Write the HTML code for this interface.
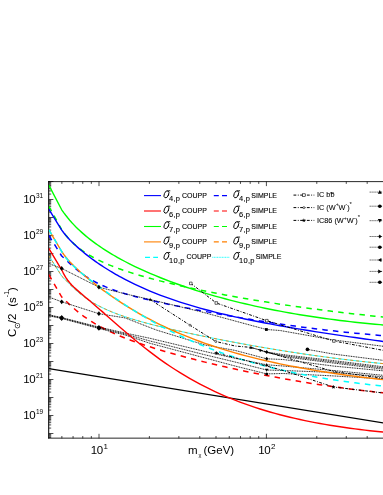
<!DOCTYPE html>
<html><head><meta charset="utf-8"><title>chart</title>
<style>
html,body{margin:0;padding:0;background:#fff}
body{width:383px;height:495px;position:relative;overflow:hidden;font-family:"Liberation Sans",sans-serif;color:#000}
.t{position:absolute;white-space:nowrap;line-height:1}
#tx{position:absolute;left:0;top:0;width:383px;height:495px;opacity:0.999;will-change:transform}
.yl{right:339.8px;font-size:11.5px;letter-spacing:-0.35px}
.xl{top:445.1px;font-size:11.5px;letter-spacing:-0.35px}
.sup{font-size:6.5px;position:relative;top:-5.2px;margin-left:0.6px;letter-spacing:0}
.s2{font-size:5px;position:relative;top:-3.2px;-webkit-text-stroke:0}
</style></head><body>
<svg width="383" height="495" viewBox="0 0 383 495" style="position:absolute;left:0;top:0">
<defs><clipPath id="cp"><rect x="48.8" y="181.5" width="340" height="257"/></clipPath></defs>
<g stroke="#000" fill="none">
<line x1="48.7" y1="181.05" x2="48.7" y2="438.59999999999997" stroke-width="1.05"/>
<line x1="48.2" y1="181.62" x2="384" y2="181.62" stroke-width="0.85"/>
<line x1="48.2" y1="438.15" x2="384" y2="438.15" stroke-width="0.85"/>
<path d="M48.8,433.50h4.6M48.8,428.08h2.4M48.8,424.91h2.4M48.8,422.66h2.4M48.8,420.92h2.4M48.8,419.49h2.4M48.8,418.29h2.4M48.8,417.24h2.4M48.8,416.32h2.4M48.8,415.50h4.6M48.8,410.08h2.4M48.8,406.91h2.4M48.8,404.66h2.4M48.8,402.92h2.4M48.8,401.49h2.4M48.8,400.29h2.4M48.8,399.24h2.4M48.8,398.32h2.4M48.8,397.50h4.6M48.8,392.08h2.4M48.8,388.91h2.4M48.8,386.66h2.4M48.8,384.92h2.4M48.8,383.49h2.4M48.8,382.29h2.4M48.8,381.24h2.4M48.8,380.32h2.4M48.8,379.50h4.6M48.8,374.08h2.4M48.8,370.91h2.4M48.8,368.66h2.4M48.8,366.92h2.4M48.8,365.49h2.4M48.8,364.29h2.4M48.8,363.24h2.4M48.8,362.32h2.4M48.8,361.50h4.6M48.8,356.08h2.4M48.8,352.91h2.4M48.8,350.66h2.4M48.8,348.92h2.4M48.8,347.49h2.4M48.8,346.29h2.4M48.8,345.24h2.4M48.8,344.32h2.4M48.8,343.50h4.6M48.8,338.08h2.4M48.8,334.91h2.4M48.8,332.66h2.4M48.8,330.92h2.4M48.8,329.49h2.4M48.8,328.29h2.4M48.8,327.24h2.4M48.8,326.32h2.4M48.8,325.50h4.6M48.8,320.08h2.4M48.8,316.91h2.4M48.8,314.66h2.4M48.8,312.92h2.4M48.8,311.49h2.4M48.8,310.29h2.4M48.8,309.24h2.4M48.8,308.32h2.4M48.8,307.50h4.6M48.8,302.08h2.4M48.8,298.91h2.4M48.8,296.66h2.4M48.8,294.92h2.4M48.8,293.49h2.4M48.8,292.29h2.4M48.8,291.24h2.4M48.8,290.32h2.4M48.8,289.50h4.6M48.8,284.08h2.4M48.8,280.91h2.4M48.8,278.66h2.4M48.8,276.92h2.4M48.8,275.49h2.4M48.8,274.29h2.4M48.8,273.24h2.4M48.8,272.32h2.4M48.8,271.50h4.6M48.8,266.08h2.4M48.8,262.91h2.4M48.8,260.66h2.4M48.8,258.92h2.4M48.8,257.49h2.4M48.8,256.29h2.4M48.8,255.24h2.4M48.8,254.32h2.4M48.8,253.50h4.6M48.8,248.08h2.4M48.8,244.91h2.4M48.8,242.66h2.4M48.8,240.92h2.4M48.8,239.49h2.4M48.8,238.29h2.4M48.8,237.24h2.4M48.8,236.32h2.4M48.8,235.50h4.6M48.8,230.08h2.4M48.8,226.91h2.4M48.8,224.66h2.4M48.8,222.92h2.4M48.8,221.49h2.4M48.8,220.29h2.4M48.8,219.24h2.4M48.8,218.32h2.4M48.8,217.50h4.6M48.8,212.08h2.4M48.8,208.91h2.4M48.8,206.66h2.4M48.8,204.92h2.4M48.8,203.49h2.4M48.8,202.29h2.4M48.8,201.24h2.4M48.8,200.32h2.4M48.8,199.50h4.6M48.8,194.08h2.4M48.8,190.91h2.4M48.8,188.66h2.4M48.8,186.92h2.4M48.8,185.49h2.4M48.8,184.29h2.4M48.8,183.24h2.4M48.8,182.32h2.4M48.8,181.50h4.6M48.8,437.49h2.4M48.8,436.29h2.4M48.8,435.24h2.4M48.8,434.32h2.4" stroke-width="0.7"/>
<path d="M61.86,438.4v-2.4M61.86,181.5v2.4M73.07,438.4v-2.4M73.07,181.5v2.4M82.78,438.4v-2.4M82.78,181.5v2.4M91.34,438.4v-2.4M91.34,181.5v2.4M149.39,438.4v-2.4M149.39,181.5v2.4M178.87,438.4v-2.4M178.87,181.5v2.4M199.78,438.4v-2.4M199.78,181.5v2.4M216.01,438.4v-2.4M216.01,181.5v2.4M229.26,438.4v-2.4M229.26,181.5v2.4M240.47,438.4v-2.4M240.47,181.5v2.4M250.18,438.4v-2.4M250.18,181.5v2.4M258.74,438.4v-2.4M258.74,181.5v2.4M316.79,438.4v-2.4M316.79,181.5v2.4M346.27,438.4v-2.4M346.27,181.5v2.4M367.18,438.4v-2.4M367.18,181.5v2.4M99.00,438.4v-4.6M99.00,181.5v4.6M266.40,438.4v-4.6M266.40,181.5v4.6" stroke-width="0.7"/>
</g>
<g clip-path="url(#cp)" fill="none" stroke-linejoin="round">
<path d="M48.8,368.6 L385,423.3" stroke="#000" stroke-width="1.2"/>
<path d="M48.8,255.7 L61.7,276.10 L63.7,278.07 L65.7,280.12 L67.7,282.17 L69.7,284.19 L71.7,286.16 L73.7,288.07 L75.7,289.90 L77.7,291.66 L79.7,293.34 L81.7,294.94 L83.7,296.46 L85.7,297.92 L87.7,299.30 L89.7,300.62 L91.7,301.88 L93.7,303.08 L95.7,304.23 L97.7,305.33 L99.7,306.38 L101.7,307.38 L103.7,308.35 L105.7,309.28 L107.7,310.17 L109.7,311.03 L111.7,311.86 L113.7,312.66 L115.7,313.44 L117.7,314.19 L119.7,314.92 L120.0,315.02 L125.0,316.75 L130.0,318.37 L135.0,319.89 L140.0,321.34 L145.0,322.73 L150.0,324.06 L155.0,325.34 L160.0,326.58 L165.0,327.79 L170.0,328.97 L175.0,330.11 L180.0,331.24 L185.0,332.34 L190.0,333.43 L195.0,334.49 L200.0,335.54 L205.0,336.57 L210.0,337.59 L215.0,338.59 L220.0,339.57 L225.0,340.54 L230.0,341.50 L235.0,342.44 L240.0,343.37 L245.0,344.29 L250.0,345.19 L255.0,346.08 L260.0,346.95 L265.0,347.81 L270.0,348.65 L275.0,349.48 L280.0,350.30 L285.0,351.10 L290.0,351.88 L295.0,352.65 L300.0,353.41 L305.0,354.15 L310.0,354.87 L315.0,355.58 L320.0,356.27 L325.0,356.95 L330.0,357.61 L335.0,358.25 L340.0,358.88 L345.0,359.49 L350.0,360.09 L355.0,360.67 L360.0,361.23 L365.0,361.77 L370.0,362.30 L375.0,362.81 L380.0,363.31 L385.0,363.79" stroke="#00ffff" stroke-width="0.9"/>
<path d="M48.8,255.7 L61.7,276.10 L63.7,278.07 L65.7,280.12 L67.7,282.17 L69.7,284.19 L71.7,286.16 L73.7,288.07 L75.7,289.90 L77.7,291.66 L79.7,293.34 L81.7,294.94 L83.7,296.46 L85.7,297.92 L87.7,299.30 L89.7,300.62 L91.7,301.88 L93.7,303.08 L95.7,304.23 L97.7,305.33 L99.7,306.38 L101.7,307.38 L103.7,308.35 L105.7,309.28 L107.7,310.17 L109.7,311.03 L111.7,311.86 L113.7,312.66 L115.7,313.44 L117.7,314.19 L119.7,314.92 L120.0,315.02 L125.0,316.75 L130.0,318.37 L135.0,319.89 L140.0,321.34 L145.0,322.73 L150.0,324.06 L155.0,325.34 L160.0,326.58 L165.0,327.79 L170.0,328.97 L175.0,330.11 L180.0,331.24 L185.0,332.34 L190.0,333.43 L195.0,334.49 L200.0,335.54 L205.0,336.57 L210.0,337.59 L215.0,338.59 L220.0,339.57 L225.0,340.54 L230.0,341.50 L235.0,342.44 L240.0,343.37 L245.0,344.29 L250.0,345.19 L255.0,346.08 L260.0,346.95 L265.0,347.81 L270.0,348.65 L275.0,349.48 L280.0,350.30 L285.0,351.10 L290.0,351.88 L295.0,352.65 L300.0,353.41 L305.0,354.15 L310.0,354.87 L315.0,355.58 L320.0,356.27 L325.0,356.95 L330.0,357.61 L335.0,358.25 L340.0,358.88 L345.0,359.49 L350.0,360.09 L355.0,360.67 L360.0,361.23 L365.0,361.77 L370.0,362.30 L375.0,362.81 L380.0,363.31 L385.0,363.79" stroke="#ff8000" stroke-width="0.9" stroke-dasharray="3 3"/>
<path d="M48.8,206.3 L61.7,229.60 L63.7,232.41 L65.7,235.00 L67.7,237.40 L69.7,239.61 L71.7,241.67 L73.7,243.58 L75.7,245.38 L77.7,247.06 L79.7,248.64 L81.7,250.13 L83.7,251.54 L85.7,252.88 L87.7,254.15 L89.7,255.36 L91.7,256.52 L93.7,257.62 L95.7,258.68 L97.7,259.70 L99.7,260.68 L101.7,261.63 L103.7,262.54 L105.7,263.42 L107.7,264.28 L109.7,265.11 L111.7,265.91 L113.7,266.69 L115.7,267.46 L117.7,268.20 L119.7,268.92 L120.0,269.03 L125.0,270.76 L130.0,272.40 L135.0,273.96 L140.0,275.45 L145.0,276.89 L150.0,278.27 L155.0,279.60 L160.0,280.89 L165.0,282.13 L170.0,283.35 L175.0,284.53 L180.0,285.68 L185.0,286.80 L190.0,287.89 L195.0,288.96 L200.0,290.01 L205.0,291.03 L210.0,292.03 L215.0,293.01 L220.0,293.97 L225.0,294.91 L230.0,295.83 L235.0,296.74 L240.0,297.62 L245.0,298.49 L250.0,299.35 L255.0,300.18 L260.0,301.01 L265.0,301.81 L270.0,302.60 L275.0,303.38 L280.0,304.14 L285.0,304.89 L290.0,305.62 L295.0,306.35 L300.0,307.05 L305.0,307.75 L310.0,308.43 L315.0,309.09 L320.0,309.75 L325.0,310.39 L330.0,311.02 L335.0,311.64 L340.0,312.25 L345.0,312.84 L350.0,313.42 L355.0,313.99 L360.0,314.55 L365.0,315.10 L370.0,315.64 L375.0,316.16 L380.0,316.68 L385.0,317.18" stroke="#00ff00" stroke-width="1.5" stroke-dasharray="5.5 5.2"/>
<path d="M48.8,235.4 L61.7,256.00 L63.7,257.74 L65.7,259.59 L67.7,261.48 L69.7,263.37 L71.7,265.21 L73.7,267.01 L75.7,268.74 L77.7,270.40 L79.7,271.99 L81.7,273.50 L83.7,274.94 L85.7,276.31 L87.7,277.61 L89.7,278.85 L91.7,280.03 L93.7,281.15 L95.7,282.22 L97.7,283.24 L99.7,284.21 L101.7,285.14 L103.7,286.03 L105.7,286.89 L107.7,287.70 L109.7,288.49 L111.7,289.25 L113.7,289.98 L115.7,290.68 L117.7,291.36 L119.7,292.02 L120.0,292.12 L125.0,293.67 L130.0,295.12 L135.0,296.49 L140.0,297.78 L145.0,299.02 L150.0,300.21 L155.0,301.35 L160.0,302.46 L165.0,303.54 L170.0,304.59 L175.0,305.62 L180.0,306.63 L185.0,307.63 L190.0,308.60 L195.0,309.56 L200.0,310.51 L205.0,311.44 L210.0,312.37 L215.0,313.27 L220.0,314.17 L225.0,315.05 L230.0,315.93 L235.0,316.79 L240.0,317.63 L245.0,318.47 L250.0,319.29 L255.0,320.10 L260.0,320.90 L265.0,321.68 L270.0,322.45 L275.0,323.20 L280.0,323.94 L285.0,324.67 L290.0,325.38 L295.0,326.07 L300.0,326.75 L305.0,327.42 L310.0,328.07 L315.0,328.70 L320.0,329.32 L325.0,329.92 L330.0,330.50 L335.0,331.07 L340.0,331.62 L345.0,332.15 L350.0,332.67 L355.0,333.17 L360.0,333.65 L365.0,334.11 L370.0,334.56 L375.0,334.98 L380.0,335.39 L385.0,335.79" stroke="#0000ff" stroke-width="1.5" stroke-dasharray="5.5 5.2"/>
<path d="M48.8,274.5 L61.7,297.00 L63.7,298.87 L65.7,300.79 L67.7,302.70 L69.7,304.59 L71.7,306.43 L73.7,308.22 L75.7,309.96 L77.7,311.63 L79.7,313.25 L81.7,314.80 L83.7,316.29 L85.7,317.73 L87.7,319.11 L89.7,320.44 L91.7,321.72 L93.7,322.95 L95.7,324.14 L97.7,325.29 L99.7,326.40 L101.7,327.48 L103.7,328.52 L105.7,329.53 L107.7,330.52 L109.7,331.47 L111.7,332.40 L113.7,333.30 L115.7,334.19 L117.7,335.05 L119.7,335.89 L120.0,336.01 L125.0,338.03 L130.0,339.94 L135.0,341.77 L140.0,343.52 L145.0,345.21 L150.0,346.83 L155.0,348.41 L160.0,349.93 L165.0,351.42 L170.0,352.87 L175.0,354.28 L180.0,355.65 L185.0,357.00 L190.0,358.32 L195.0,359.60 L200.0,360.87 L205.0,362.11 L210.0,363.32 L215.0,364.51 L220.0,365.68 L225.0,366.82 L230.0,367.94 L235.0,369.04 L240.0,370.12 L245.0,371.18 L250.0,372.22 L255.0,373.24 L260.0,374.24 L265.0,375.22 L270.0,376.17 L275.0,377.11 L280.0,378.03 L285.0,378.93 L290.0,379.81 L295.0,380.67 L300.0,381.51 L305.0,382.34 L310.0,383.14 L315.0,383.92 L320.0,384.69 L325.0,385.43 L330.0,386.16 L335.0,386.87 L340.0,387.56 L345.0,388.23 L350.0,388.89 L355.0,389.52 L360.0,390.14 L365.0,390.73 L370.0,391.31 L375.0,391.88 L380.0,392.42 L385.0,392.95" stroke="#ff0000" stroke-width="1.5" stroke-dasharray="5.5 5.2"/>
<path d="M48.8,263.6 L61.7,268.4 L98.9,287.2 L125.0,293.8 L150.0,299.5 L200.0,311.5 L266.4,329.5 L280.0,330.5 L333.0,339.9 L385.0,346.5" stroke="#000" stroke-width="0.9" stroke-dasharray="1 0.7"/>
<path d="M48.8,297.0 L61.7,301.8 L98.9,313.7 L125.0,317.9 L156.3,330.0 L205.0,345.0 L235.0,350.4 L266.7,358.8 L283.0,359.5 L333.0,366.0 L385.0,371.0" stroke="#000" stroke-width="0.9" stroke-dasharray="1 0.7"/>
<path d="M48.8,314.8 L61.7,317.5 L98.9,327.1 L125.0,333.0 L150.0,338.3 L205.0,351.5 L235.0,358.3 L266.7,364.8 L283.0,366.0 L333.0,370.5 L385.0,375.5" stroke="#000" stroke-width="0.9" stroke-dasharray="1 0.7"/>
<path d="M48.8,315.3 L61.7,318.0 L98.9,327.8 L125.0,334.0 L150.0,341.0 L205.0,354.8 L235.0,362.0 L266.7,370.0 L283.0,370.5 L333.0,372.4 L385.0,377.0" stroke="#000" stroke-width="0.9" stroke-dasharray="1 0.7"/>
<path d="M48.8,315.8 L61.7,318.5 L98.9,328.5 L125.0,335.0 L150.0,343.3 L205.0,358.0 L235.0,366.0 L266.7,373.9 L283.0,373.5 L333.0,375.9 L385.0,379.0" stroke="#000" stroke-width="0.9" stroke-dasharray="1 0.7"/>
<path d="M250.9,347.4 L261.1,350.4 L266.7,352.0 L283.0,354.6 L333.0,360.6 L385.0,367.0" stroke="#000" stroke-width="0.9" stroke-dasharray="1 0.7"/>
<path d="M261.1,350.4 L266.7,352.6 L283.0,355.6 L333.0,361.8 L385.0,368.2" stroke="#000" stroke-width="0.9" stroke-dasharray="1 0.7"/>
<path d="M266.7,352.0 L283.0,356.6 L333.0,363.0 L385.0,369.4" stroke="#000" stroke-width="0.9" stroke-dasharray="1 0.7"/>
<path d="M307.4,349.4 L333.0,354.0 L385.0,360.6" stroke="#000" stroke-width="0.9" stroke-dasharray="1 0.7"/>
<path d="M48.8,185.2 L61.7,209.79 L63.7,212.62 L65.7,215.28 L67.7,217.80 L69.7,220.18 L71.7,222.45 L73.7,224.61 L75.7,226.68 L77.7,228.66 L79.7,230.56 L81.7,232.39 L83.7,234.15 L85.7,235.85 L87.7,237.50 L89.7,239.10 L91.7,240.64 L93.7,242.14 L95.7,243.60 L97.7,245.02 L99.7,246.41 L101.7,247.76 L103.7,249.08 L105.7,250.37 L107.7,251.62 L109.7,252.86 L111.7,254.06 L113.7,255.24 L115.7,256.40 L117.7,257.53 L119.7,258.64 L120.0,258.81 L125.0,261.50 L130.0,264.07 L135.0,266.53 L140.0,268.90 L145.0,271.17 L150.0,273.37 L155.0,275.48 L160.0,277.52 L165.0,279.49 L170.0,281.40 L175.0,283.25 L180.0,285.03 L185.0,286.76 L190.0,288.43 L195.0,290.05 L200.0,291.63 L205.0,293.15 L210.0,294.63 L215.0,296.06 L220.0,297.45 L225.0,298.80 L230.0,300.10 L235.0,301.37 L240.0,302.60 L245.0,303.79 L250.0,304.94 L255.0,306.06 L260.0,307.15 L265.0,308.20 L270.0,309.22 L275.0,310.21 L280.0,311.16 L285.0,312.09 L290.0,312.98 L295.0,313.85 L300.0,314.69 L305.0,315.50 L310.0,316.28 L315.0,317.04 L320.0,317.77 L325.0,318.47 L330.0,319.15 L335.0,319.81 L340.0,320.44 L345.0,321.05 L350.0,321.63 L355.0,322.19 L360.0,322.73 L365.0,323.25 L370.0,323.74 L375.0,324.22 L380.0,324.67 L385.0,325.11" stroke="#00ff00" stroke-width="1.4"/>
<path d="M48.8,209.2 L61.7,230.10 L63.7,232.77 L65.7,235.23 L67.7,237.52 L69.7,239.68 L71.7,241.73 L73.7,243.69 L75.7,245.57 L77.7,247.39 L79.7,249.14 L81.7,250.84 L83.7,252.50 L85.7,254.10 L87.7,255.67 L89.7,257.20 L91.7,258.69 L93.7,260.15 L95.7,261.58 L97.7,262.97 L99.7,264.33 L101.7,265.67 L103.7,266.98 L105.7,268.26 L107.7,269.51 L109.7,270.74 L111.7,271.95 L113.7,273.13 L115.7,274.28 L117.7,275.42 L119.7,276.53 L120.0,276.70 L125.0,279.38 L130.0,281.93 L135.0,284.37 L140.0,286.70 L145.0,288.93 L150.0,291.05 L155.0,293.09 L160.0,295.04 L165.0,296.91 L170.0,298.70 L175.0,300.42 L180.0,302.08 L185.0,303.67 L190.0,305.20 L195.0,306.68 L200.0,308.10 L205.0,309.47 L210.0,310.80 L215.0,312.08 L220.0,313.32 L225.0,314.53 L230.0,315.69 L235.0,316.82 L240.0,317.92 L245.0,318.99 L250.0,320.03 L255.0,321.04 L260.0,322.03 L265.0,322.99 L270.0,323.93 L275.0,324.85 L280.0,325.75 L285.0,326.63 L290.0,327.50 L295.0,328.34 L300.0,329.18 L305.0,329.99 L310.0,330.80 L315.0,331.59 L320.0,332.36 L325.0,333.13 L330.0,333.89 L335.0,334.64 L340.0,335.38 L345.0,336.11 L350.0,336.83 L355.0,337.54 L360.0,338.25 L365.0,338.95 L370.0,339.65 L375.0,340.34 L380.0,341.03 L385.0,341.71" stroke="#0000ff" stroke-width="1.4"/>
<path d="M48.8,229.6 L61.7,251.50 L63.7,254.39 L65.7,257.01 L67.7,259.42 L69.7,261.66 L71.7,263.77 L73.7,265.79 L75.7,267.72 L77.7,269.59 L79.7,271.40 L81.7,273.17 L83.7,274.89 L85.7,276.58 L87.7,278.24 L89.7,279.87 L91.7,281.47 L93.7,283.05 L95.7,284.60 L97.7,286.13 L99.7,287.64 L101.7,289.13 L103.7,290.60 L105.7,292.05 L107.7,293.48 L109.7,294.89 L111.7,296.28 L113.7,297.65 L115.7,299.00 L117.7,300.34 L119.7,301.66 L120.0,301.85 L125.0,305.06 L130.0,308.15 L135.0,311.14 L140.0,314.02 L145.0,316.80 L150.0,319.48 L155.0,322.06 L160.0,324.55 L165.0,326.95 L170.0,329.27 L175.0,331.50 L180.0,333.65 L185.0,335.72 L190.0,337.72 L195.0,339.65 L200.0,341.51 L205.0,343.30 L210.0,345.03 L215.0,346.70 L220.0,348.31 L225.0,349.86 L230.0,351.36 L235.0,352.81 L240.0,354.21 L245.0,355.56 L250.0,356.86 L255.0,358.12 L260.0,359.34 L265.0,360.52 L270.0,361.66 L275.0,362.76 L280.0,363.82 L285.0,364.85 L290.0,365.85 L295.0,366.81 L300.0,367.75 L305.0,368.65 L310.0,369.53 L315.0,370.38 L320.0,371.20 L325.0,371.99 L330.0,372.77 L335.0,373.51 L340.0,374.24 L345.0,374.94 L350.0,375.63 L355.0,376.29 L360.0,376.94 L365.0,377.56 L370.0,378.17 L375.0,378.76 L380.0,379.33 L385.0,379.89" stroke="#ff8000" stroke-width="1.4"/>
<path d="M48.8,229.6 L61.7,251.50 L63.7,254.66 L65.7,257.44 L67.7,259.91 L69.7,262.17 L71.7,264.26 L73.7,266.22 L75.7,268.08 L77.7,269.86 L79.7,271.59 L81.7,273.26 L83.7,274.89 L85.7,276.50 L87.7,278.07 L89.7,279.63 L91.7,281.16 L93.7,282.68 L95.7,284.19 L97.7,285.68 L99.7,287.15 L101.7,288.62 L103.7,290.07 L105.7,291.51 L107.7,292.94 L109.7,294.35 L111.7,295.75 L113.7,297.14 L115.7,298.52 L117.7,299.89 L119.7,301.24 L120.0,301.44 L125.0,304.77 L130.0,308.00 L135.0,311.16 L140.0,314.23 L145.0,317.21 L150.0,320.11 L155.0,322.92 L160.0,325.64 L165.0,328.28 L170.0,330.84 L175.0,333.31 L180.0,335.71 L185.0,338.02 L190.0,340.26 L195.0,342.43 L200.0,344.52 L205.0,346.54 L210.0,348.49 L215.0,350.38 L220.0,352.20 L225.0,353.95 L230.0,355.65 L235.0,357.29 L240.0,358.87 L245.0,360.39 L250.0,361.86 L255.0,363.28 L260.0,364.64 L265.0,365.96 L270.0,367.23 L275.0,368.46 L280.0,369.64 L285.0,370.77 L290.0,371.87 L295.0,372.92 L300.0,373.94 L305.0,374.92 L310.0,375.86 L315.0,376.76 L320.0,377.63 L325.0,378.47 L330.0,379.28 L335.0,380.05 L340.0,380.80 L345.0,381.51 L350.0,382.20 L355.0,382.86 L360.0,383.49 L365.0,384.09 L370.0,384.67 L375.0,385.23 L380.0,385.76 L385.0,386.28" stroke="#00ffff" stroke-width="1.5" stroke-dasharray="5.5 5.2"/>
<path d="M48.8,248.4 L61.7,269.80 L63.7,273.96 L65.7,277.37 L67.7,280.23 L69.7,282.71 L71.7,284.91 L73.7,286.93 L75.7,288.81 L77.7,290.61 L79.7,292.36 L81.7,294.06 L83.7,295.76 L85.7,297.44 L87.7,299.12 L89.7,300.81 L91.7,302.51 L93.7,304.22 L95.7,305.94 L97.7,307.67 L99.7,309.41 L101.7,311.15 L103.7,312.90 L105.7,314.66 L107.7,316.42 L109.7,318.18 L111.7,319.95 L113.7,321.71 L115.7,323.46 L117.7,325.22 L119.7,326.96 L120.0,327.22 L125.0,331.55 L130.0,335.81 L135.0,339.99 L140.0,344.07 L145.0,348.05 L150.0,351.92 L155.0,355.68 L160.0,359.31 L165.0,362.83 L170.0,366.23 L175.0,369.51 L180.0,372.66 L185.0,375.70 L190.0,378.63 L195.0,381.44 L200.0,384.14 L205.0,386.73 L210.0,389.21 L215.0,391.60 L220.0,393.88 L225.0,396.07 L230.0,398.17 L235.0,400.17 L240.0,402.10 L245.0,403.94 L250.0,405.69 L255.0,407.38 L260.0,408.98 L265.0,410.52 L270.0,411.99 L275.0,413.40 L280.0,414.74 L285.0,416.02 L290.0,417.24 L295.0,418.41 L300.0,419.52 L305.0,420.59 L310.0,421.60 L315.0,422.57 L320.0,423.49 L325.0,424.38 L330.0,425.22 L335.0,426.02 L340.0,426.78 L345.0,427.51 L350.0,428.21 L355.0,428.87 L360.0,429.51 L365.0,430.11 L370.0,430.68 L375.0,431.23 L380.0,431.76 L385.0,432.26" stroke="#ff0000" stroke-width="1.4"/>
<path d="M190.8,283.4 L216.3,303.0 L266.8,320.7 L333.9,341.0 L385.0,350.7" stroke="#000" stroke-width="1.0" stroke-dasharray="2.8 1.5 0.9 1.5"/>
<path d="M150.2,299.6 L190.0,325.2 L215.8,341.5 L235.0,346.0 L250.9,347.4 L266.7,352.0 L334.4,371.7 L385.0,378.5" stroke="#000" stroke-width="1.0" stroke-dasharray="2.8 1.5 0.9 1.5"/>
<path d="M216.2,353.0 L246.8,360.7 L267.6,366.3 L285.0,371.0 L333.4,387.0 L385.0,393.2" stroke="#000" stroke-width="1.0" stroke-dasharray="2.8 1.5 0.9 1.5"/>
<path d="M61.7,266.0L63.620000000000005,268.4L61.7,270.79999999999995L59.78,268.4Z" fill="#000" stroke="none"/><path d="M98.9,284.8L100.82000000000001,287.2L98.9,289.59999999999997L96.98,287.2Z" fill="#000" stroke="none"/><rect x="265.0" y="328.1" width="2.8" height="2.8" fill="#000" stroke="none"/><path d="M61.7,299.40000000000003L63.620000000000005,301.8L61.7,304.2L59.78,301.8Z" fill="#000" stroke="none"/><path d="M98.9,311.3L100.82000000000001,313.7L98.9,316.09999999999997L96.98,313.7Z" fill="#000" stroke="none"/><path d="M61.7,315.1L64.02,318.0L61.7,320.9L59.38,318.0Z" fill="#000" stroke="none"/><circle cx="61.7" cy="318.0" r="1.9" fill="#000" stroke="none"/><path d="M98.9,324.90000000000003L101.22,327.8L98.9,330.7L96.58000000000001,327.8Z" fill="#000" stroke="none"/><circle cx="98.9" cy="327.8" r="1.9" fill="#000" stroke="none"/><path d="M250.9,345.7L252.6,348.76L249.20000000000002,348.76Z" fill="#000" stroke="none"/><path d="M262.8,350.4L259.74,348.7L259.74,352.09999999999997Z" fill="#000" stroke="none"/><path d="M266.7,350.0L268.3,352L266.7,354.0L265.09999999999997,352Z" fill="#000" stroke="none"/><path d="M266.7,356.8L268.3,358.8L266.7,360.8L265.09999999999997,358.8Z" fill="#000" stroke="none"/><path d="M266.7,363.1L268.4,366.16L265.0,366.16Z" fill="#000" stroke="none"/><path d="M266.7,371.7L268.4,368.64L265.0,368.64Z" fill="#000" stroke="none"/><circle cx="266.7" cy="373.9" r="1.5" fill="#000" stroke="none"/><circle cx="307.4" cy="349.4" r="1.8" fill="#000" stroke="none"/><rect x="189.5" y="282.09999999999997" width="2.6" height="2.6" fill="#fff" stroke="#000" stroke-width="0.6" stroke-dasharray="none"/><rect x="215.0" y="301.7" width="2.6" height="2.6" fill="#fff" stroke="#000" stroke-width="0.6" stroke-dasharray="none"/><rect x="265.5" y="319.4" width="2.6" height="2.6" fill="#fff" stroke="#000" stroke-width="0.6" stroke-dasharray="none"/><rect x="332.59999999999997" y="339.7" width="2.6" height="2.6" fill="#fff" stroke="#000" stroke-width="0.6" stroke-dasharray="none"/><circle cx="190" cy="325.2" r="1.0" fill="#fff" stroke="#000" stroke-width="0.6"/><circle cx="215.8" cy="341.5" r="1.0" fill="#fff" stroke="#000" stroke-width="0.6"/><circle cx="334.4" cy="371.7" r="1.0" fill="#fff" stroke="#000" stroke-width="0.6"/><path d="M150.20,297.60 L150.67,298.95 L152.10,298.98 L150.96,299.85 L151.38,301.22 L150.20,300.40 L149.02,301.22 L149.44,299.85 L148.30,298.98 L149.73,298.95Z" fill="#000" stroke="none"/><path d="M216.20,350.80 L216.72,352.29 L218.29,352.32 L217.04,353.27 L217.49,354.78 L216.20,353.88 L214.91,354.78 L215.36,353.27 L214.11,352.32 L215.68,352.29Z" fill="#000" stroke="none"/><path d="M333.40,384.80 L333.92,386.29 L335.49,386.32 L334.24,387.27 L334.69,388.78 L333.40,387.88 L332.11,388.78 L332.56,387.27 L331.31,386.32 L332.88,386.29Z" fill="#000" stroke="none"/>
</g>
<g fill="none">
<line x1="144" y1="195.6" x2="161" y2="195.6" stroke="#0000ff" stroke-width="1.1"/>
<line x1="213.8" y1="195.6" x2="227" y2="195.6" stroke="#0000ff" stroke-width="1.2" stroke-dasharray="5 3.2"/>
<line x1="144" y1="211" x2="161" y2="211" stroke="#ff0000" stroke-width="1.1"/>
<line x1="213.8" y1="211" x2="227" y2="211" stroke="#ff0000" stroke-width="1.2" stroke-dasharray="5 3.2"/>
<line x1="144" y1="226.5" x2="161" y2="226.5" stroke="#00ff00" stroke-width="1.1"/>
<line x1="213.8" y1="226.5" x2="227" y2="226.5" stroke="#00ff00" stroke-width="1.2" stroke-dasharray="5 3.2"/>
<line x1="144" y1="241.9" x2="161" y2="241.9" stroke="#ff8000" stroke-width="1.1"/>
<line x1="213.8" y1="241.9" x2="227" y2="241.9" stroke="#ff8000" stroke-width="1.2" stroke-dasharray="5 3.2"/>
<line x1="145" y1="257.3" x2="158" y2="257.3" stroke="#00ffff" stroke-width="1.2" stroke-dasharray="5 3.2"/>
<line x1="212.3" y1="257.3" x2="229.6" y2="257.3" stroke="#00ffff" stroke-width="0.9" stroke-dasharray="1 0.6"/>
<line x1="293.5" y1="195.1" x2="314.3" y2="195.1" stroke="#000" stroke-width="1.0" stroke-dasharray="2.8 1.5 0.9 1.5"/>
<rect x="302.59999999999997" y="193.79999999999998" width="2.6" height="2.6" fill="#fff" stroke="#000" stroke-width="0.6" stroke-dasharray="none"/>
<line x1="293.5" y1="207.6" x2="314.3" y2="207.6" stroke="#000" stroke-width="1.0" stroke-dasharray="2.8 1.5 0.9 1.5"/>
<circle cx="303.9" cy="207.6" r="1.0" fill="#fff" stroke="#000" stroke-width="0.6"/>
<line x1="293.5" y1="220.4" x2="314.3" y2="220.4" stroke="#000" stroke-width="1.0" stroke-dasharray="2.8 1.5 0.9 1.5"/>
<path d="M303.90,218.20 L304.42,219.69 L305.99,219.72 L304.74,220.67 L305.19,222.18 L303.90,221.28 L302.61,222.18 L303.06,220.67 L301.81,219.72 L303.38,219.69Z" fill="#000" stroke="none"/>
<line x1="369.7" y1="192.1" x2="384" y2="192.1" stroke="#000" stroke-width="0.8" stroke-dasharray="1 0.9"/>
<path d="M379.8,190.1L381.8,193.7L377.8,193.7Z" fill="#000" stroke="none"/>
<line x1="369.7" y1="206.2" x2="384" y2="206.2" stroke="#000" stroke-width="0.8" stroke-dasharray="1 0.9"/>
<circle cx="379.8" cy="206.2" r="1.8" fill="#000" stroke="none"/>
<line x1="369.7" y1="220.7" x2="384" y2="220.7" stroke="#000" stroke-width="0.8" stroke-dasharray="1 0.9"/>
<path d="M379.8,222.7L381.8,219.1L377.8,219.1Z" fill="#000" stroke="none"/>
<line x1="369.7" y1="236.5" x2="384" y2="236.5" stroke="#000" stroke-width="0.8" stroke-dasharray="1 0.9"/>
<path d="M379.8,234.5L381.40000000000003,236.5L379.8,238.5L378.2,236.5Z" fill="#000" stroke="none"/>
<line x1="369.7" y1="247.2" x2="384" y2="247.2" stroke="#000" stroke-width="0.8" stroke-dasharray="1 0.9"/>
<circle cx="379.8" cy="247.2" r="1.8" fill="#000" stroke="none"/>
<line x1="369.7" y1="260" x2="384" y2="260" stroke="#000" stroke-width="0.8" stroke-dasharray="1 0.9"/>
<path d="M377.8,260L381.40000000000003,258.0L381.40000000000003,262.0Z" fill="#000" stroke="none"/>
<line x1="369.7" y1="271.4" x2="384" y2="271.4" stroke="#000" stroke-width="0.8" stroke-dasharray="1 0.9"/>
<path d="M381.8,271.4L378.2,269.4L378.2,273.4Z" fill="#000" stroke="none"/>
<line x1="369.7" y1="282.3" x2="384" y2="282.3" stroke="#000" stroke-width="0.8" stroke-dasharray="1 0.9"/>
<circle cx="379.8" cy="282.3" r="1.8" fill="#000" stroke="none"/>
</g>
<g transform="translate(163.4,190.29999999999998)" fill="none" stroke="#000" stroke-width="0.85" stroke-linecap="round"><ellipse cx="3.05" cy="4.0" rx="2.15" ry="3.75" transform="rotate(23 3.05 4.0)"/><path d="M4.4,0.55 C5.1,0.4 5.8,0.35 6.5,0.45"/></g>
<g transform="translate(233.2,190.29999999999998)" fill="none" stroke="#000" stroke-width="0.85" stroke-linecap="round"><ellipse cx="3.05" cy="4.0" rx="2.15" ry="3.75" transform="rotate(23 3.05 4.0)"/><path d="M4.4,0.55 C5.1,0.4 5.8,0.35 6.5,0.45"/></g>
<g transform="translate(163.4,205.7)" fill="none" stroke="#000" stroke-width="0.85" stroke-linecap="round"><ellipse cx="3.05" cy="4.0" rx="2.15" ry="3.75" transform="rotate(23 3.05 4.0)"/><path d="M4.4,0.55 C5.1,0.4 5.8,0.35 6.5,0.45"/></g>
<g transform="translate(233.2,205.7)" fill="none" stroke="#000" stroke-width="0.85" stroke-linecap="round"><ellipse cx="3.05" cy="4.0" rx="2.15" ry="3.75" transform="rotate(23 3.05 4.0)"/><path d="M4.4,0.55 C5.1,0.4 5.8,0.35 6.5,0.45"/></g>
<g transform="translate(163.4,221.2)" fill="none" stroke="#000" stroke-width="0.85" stroke-linecap="round"><ellipse cx="3.05" cy="4.0" rx="2.15" ry="3.75" transform="rotate(23 3.05 4.0)"/><path d="M4.4,0.55 C5.1,0.4 5.8,0.35 6.5,0.45"/></g>
<g transform="translate(233.2,221.2)" fill="none" stroke="#000" stroke-width="0.85" stroke-linecap="round"><ellipse cx="3.05" cy="4.0" rx="2.15" ry="3.75" transform="rotate(23 3.05 4.0)"/><path d="M4.4,0.55 C5.1,0.4 5.8,0.35 6.5,0.45"/></g>
<g transform="translate(163.4,236.6)" fill="none" stroke="#000" stroke-width="0.85" stroke-linecap="round"><ellipse cx="3.05" cy="4.0" rx="2.15" ry="3.75" transform="rotate(23 3.05 4.0)"/><path d="M4.4,0.55 C5.1,0.4 5.8,0.35 6.5,0.45"/></g>
<g transform="translate(233.2,236.6)" fill="none" stroke="#000" stroke-width="0.85" stroke-linecap="round"><ellipse cx="3.05" cy="4.0" rx="2.15" ry="3.75" transform="rotate(23 3.05 4.0)"/><path d="M4.4,0.55 C5.1,0.4 5.8,0.35 6.5,0.45"/></g>
<g transform="translate(163.4,252.0)" fill="none" stroke="#000" stroke-width="0.85" stroke-linecap="round"><ellipse cx="3.05" cy="4.0" rx="2.15" ry="3.75" transform="rotate(23 3.05 4.0)"/><path d="M4.4,0.55 C5.1,0.4 5.8,0.35 6.5,0.45"/></g>
<g transform="translate(233.2,252.0)" fill="none" stroke="#000" stroke-width="0.85" stroke-linecap="round"><ellipse cx="3.05" cy="4.0" rx="2.15" ry="3.75" transform="rotate(23 3.05 4.0)"/><path d="M4.4,0.55 C5.1,0.4 5.8,0.35 6.5,0.45"/></g>
<line x1="330.2" y1="192.9" x2="333.8" y2="192.9" stroke="#000" stroke-width="0.8"/>
</svg>
<div id="tx"><div class="t yl" style="top:194.1px">10<span class="sup">31</span></div><div class="t yl" style="top:230.1px">10<span class="sup">29</span></div><div class="t yl" style="top:266.1px">10<span class="sup">27</span></div><div class="t yl" style="top:302.1px">10<span class="sup">25</span></div><div class="t yl" style="top:338.1px">10<span class="sup">23</span></div><div class="t yl" style="top:374.1px">10<span class="sup">21</span></div><div class="t yl" style="top:410.1px">10<span class="sup">19</span></div><div class="t xl" style="left:90.8px">10<span class="sup" style="font-size:8px;top:-5.2px">1</span></div><div class="t xl" style="left:258.2px">10<span class="sup" style="font-size:8px;top:-5.2px">2</span></div><div class="t" style="left:188px;top:444.5px;font-size:11.5px">m<span style="font-size:5.5px;position:relative;top:3.5px;margin:0 2px 0 1px">&chi;</span>(GeV)</div><div class="t" id="ylab" style="left:12.7px;top:311.8px;font-size:11.5px;transform:translate(-50%,-50%) rotate(-90deg);transform-origin:center">C<span style="font-size:8px;position:relative;top:4.2px;margin:0 -0.8px 0 -0.8px">&#8857;</span>/2<span style="margin-left:6.9px">(s</span><span style="font-size:7px;position:relative;top:-7.5px">-1</span>)</div><div class="t" style="left:169.0px;top:195.29999999999998px;font-size:7.5px;-webkit-text-stroke:0.1px #000;letter-spacing:0.3px">4,p</div><div class="t" style="left:182px;top:191.7px;font-size:7px;-webkit-text-stroke:0.12px #000">COUPP</div><div class="t" style="left:239.0px;top:195.29999999999998px;font-size:7.5px;-webkit-text-stroke:0.1px #000;letter-spacing:0.3px">4,p</div><div class="t" style="left:251.3px;top:191.7px;font-size:7px;-webkit-text-stroke:0.12px #000">SIMPLE</div><div class="t" style="left:169.0px;top:210.7px;font-size:7.5px;-webkit-text-stroke:0.1px #000;letter-spacing:0.3px">6,p</div><div class="t" style="left:182px;top:207.1px;font-size:7px;-webkit-text-stroke:0.12px #000">COUPP</div><div class="t" style="left:239.0px;top:210.7px;font-size:7.5px;-webkit-text-stroke:0.1px #000;letter-spacing:0.3px">6,p</div><div class="t" style="left:251.3px;top:207.1px;font-size:7px;-webkit-text-stroke:0.12px #000">SIMPLE</div><div class="t" style="left:169.0px;top:226.2px;font-size:7.5px;-webkit-text-stroke:0.1px #000;letter-spacing:0.3px">7,p</div><div class="t" style="left:182px;top:222.6px;font-size:7px;-webkit-text-stroke:0.12px #000">COUPP</div><div class="t" style="left:239.0px;top:226.2px;font-size:7.5px;-webkit-text-stroke:0.1px #000;letter-spacing:0.3px">7,p</div><div class="t" style="left:251.3px;top:222.6px;font-size:7px;-webkit-text-stroke:0.12px #000">SIMPLE</div><div class="t" style="left:169.0px;top:241.6px;font-size:7.5px;-webkit-text-stroke:0.1px #000;letter-spacing:0.3px">9,p</div><div class="t" style="left:182px;top:238.0px;font-size:7px;-webkit-text-stroke:0.12px #000">COUPP</div><div class="t" style="left:239.0px;top:241.6px;font-size:7.5px;-webkit-text-stroke:0.1px #000;letter-spacing:0.3px">9,p</div><div class="t" style="left:251.3px;top:238.0px;font-size:7px;-webkit-text-stroke:0.12px #000">SIMPLE</div><div class="t" style="left:169.0px;top:257.0px;font-size:7.5px;-webkit-text-stroke:0.1px #000;letter-spacing:0.3px">10,p</div><div class="t" style="left:186.5px;top:253.4px;font-size:7px;-webkit-text-stroke:0.12px #000">COUPP</div><div class="t" style="left:239.0px;top:257.0px;font-size:7.5px;-webkit-text-stroke:0.1px #000;letter-spacing:0.3px">10,p</div><div class="t" style="left:255.7px;top:253.4px;font-size:7px;-webkit-text-stroke:0.12px #000">SIMPLE</div><div class="t" style="left:317px;top:191.4px;font-size:7.3px;-webkit-text-stroke:0.08px #000">IC bb</div><div class="t" style="left:317px;top:203.6px;font-size:7.3px;-webkit-text-stroke:0.08px #000">IC (W<span class="s2">+</span>W<span class="s2">-</span>)<span class="s2" style="top:-3.5px;font-size:6px">*</span></div><div class="t" style="left:317px;top:216.7px;font-size:7.3px;-webkit-text-stroke:0.08px #000">IC86 (W<span class="s2">+</span>W<span class="s2">-</span>)<span class="s2" style="top:-3.5px;font-size:6px">*</span></div></div>
</body></html>
